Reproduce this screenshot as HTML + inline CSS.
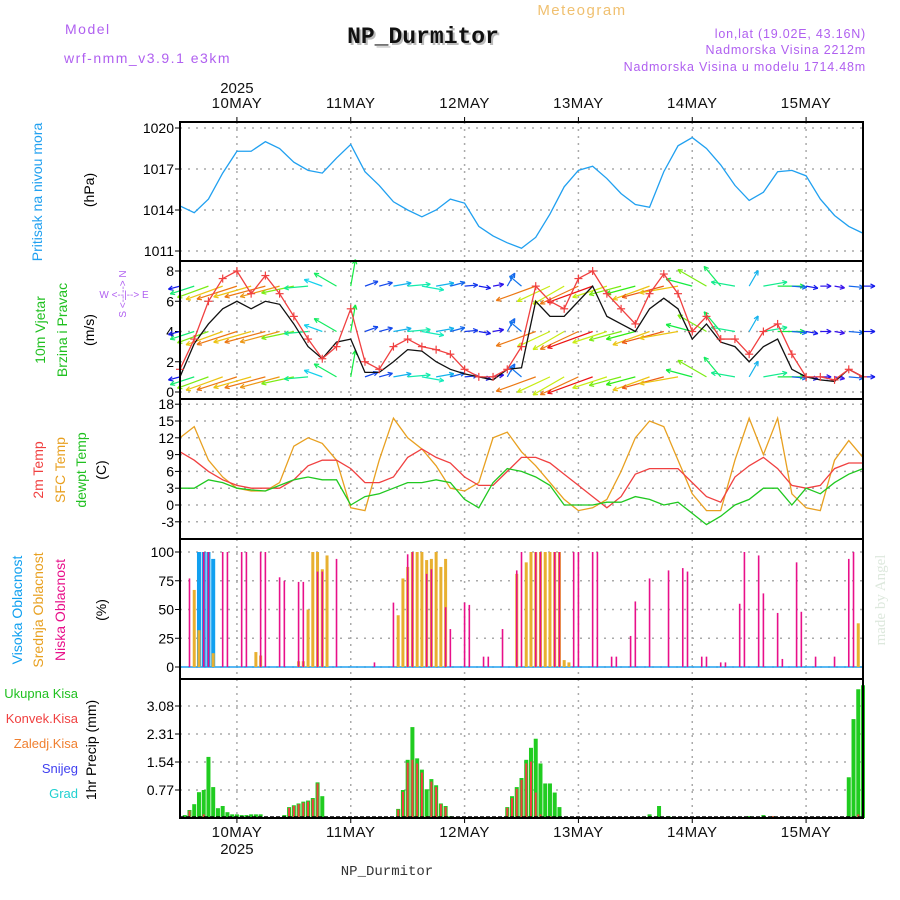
<!DOCTYPE html>
<html><head><meta charset="utf-8"><style>
body{margin:0;background:#fff;width:900px;height:900px;overflow:hidden}
svg{display:block}
</style></head><body>
<svg id="c" width="900" height="900" xmlns="http://www.w3.org/2000/svg" font-family="Liberation Sans, sans-serif">
<text x="65" y="34" fill="#b060f0" font-size="14" letter-spacing="1.5">Model</text>
<text x="64" y="63" fill="#b060f0" font-size="14" letter-spacing="1.5">wrf-nmm_v3.9.1 e3km</text>
<text x="425" y="45" text-anchor="middle" style="font-family:'Liberation Mono',monospace;font-weight:bold;font-size:23px" fill="#bbb">NP_Durmitor</text>
<text x="423" y="43" text-anchor="middle" style="font-family:'Liberation Mono',monospace;font-weight:bold;font-size:23px" fill="#111">NP_Durmitor</text>
<text x="582" y="15" text-anchor="middle" fill="#f0c070" font-size="15" letter-spacing="1.5">Meteogram</text>
<text x="866" y="38" text-anchor="end" fill="#b060f0" font-size="12.5" letter-spacing="0.8">lon,lat (19.02E, 43.16N)</text>
<text x="866" y="54" text-anchor="end" fill="#b060f0" font-size="12.5" letter-spacing="0.8">Nadmorska Visina 2212m</text>
<text x="866" y="71" text-anchor="end" fill="#b060f0" font-size="12.5" letter-spacing="0.8">Nadmorska Visina u modelu 1714.48m</text>
<text x="387" y="875" text-anchor="middle" style="font-family:'Liberation Mono',monospace;font-size:14px" fill="#333">NP_Durmitor</text>
<text transform="translate(885,600) rotate(-90)" text-anchor="middle" style="font-family:'Liberation Serif',serif;font-size:15px" fill="#dde8dd">made by Angel</text>
<g id="g"></g>
</svg>
<script>
// ---- data (hours after 9 May 12Z, step 3h) ----
const hours=[0,3,6,9,12,15,18,21,24,27,30,33,36,39,42,45,48,51,54,57,60,63,66,69,72,75,78,81,84,87,90,93,96,99,102,105,108,111,114,117,120,123,126,129,132,135,138,141,144];
const pressure=[1014.3,1013.8,1014.8,1016.7,1018.3,1018.3,1019,1018.5,1017.5,1016.9,1016.7,1017.8,1018.8,1016.8,1015.8,1014.6,1014,1013.5,1014,1014.8,1014.5,1012.8,1012.1,1011.6,1011.2,1012,1013.7,1015.7,1016.9,1017.2,1016.3,1015.2,1014.4,1014.2,1016.8,1018.7,1019.3,1018.5,1017.3,1015.8,1014.7,1015.3,1016.8,1016.9,1016.5,1014.8,1013.6,1012.8,1012.3];
const gust=[1.5,3.5,6,7.5,8,6.5,7.7,6.5,5,3.5,2.2,3,5.5,2,1.5,3,3.5,3,2.8,2.5,1.5,1,1,1.5,3,7,6,5.5,7.5,8,6.5,5.5,4.5,6.5,7.8,6.5,4,5,3.5,3.5,2.5,4,4.5,2.5,1,1,0.8,1.5,1];
const speed=[1,3.2,4.5,5.5,6,5.5,6,5.8,4.5,3,2.2,3.3,3.5,1.3,1.3,2,2.8,2.7,2,1.5,1.2,1,0.8,1.5,1.6,6,5,5,6,7,5,4.5,4,5.5,6.2,5.5,3.5,4.5,3.3,3,2,3,3.5,1.5,1,0.8,0.7,1.5,1];
const windDir=[195,198,200,200,198,196,195,195,192,185,160,150,80,20,15,10,5,350,10,15,5,350,10,60,140,200,205,210,205,200,198,195,195,200,195,190,165,150,130,170,60,10,0,355,350,0,350,355,0];
const temp2m=[9.5,8,6,4.5,3.5,3,3,3,4.5,7,8,8,6.5,4,4,5,8.5,10,8.5,7.5,5,3.5,3.5,6,8.5,8.5,7.5,5.5,3.5,1.5,-0.5,1.5,5.5,6.5,6.5,6.5,4,1.5,0.5,5,7,8.5,6.5,3.5,3,3.5,6.5,7.5,7.5];
const tempSfc=[12,14,8,5,3,2.5,2.5,4,10.5,12,11,8,-0.5,-1,8,15.5,12,10,7,3,2.5,4,12,13,9.5,7,4,1,-1,-0.5,1,6,12,15,14,8,2,-1,-1,8,15.5,9,15.5,2,-0.5,-1,8,11.5,8.5];
const dewpt=[3,3,4.5,4,3,2.7,2.5,3.5,4.5,5,4.5,4.5,0,1.5,2,3,4,4,4.5,4,1,-0.5,4,6.5,6,5,3.5,0,0,0,0.5,0.5,1.5,1,0,0.5,-1.5,-3.5,-2,0,1,3,3,0,3,2,4,5.5,6.5];
// cloud cover: [hour, percent]
const cloudHigh=[[4,100],[5,100],[6,100],[7,94]];
const cloudMid=[[3,67],[4,32],[7,12],[16,13],[17,10],[25,5],[26,5],[27,50],[28,100],[29,100],[30,85],[31,97],[46,45],[47,77],[48,87],[49,100],[50,100],[51,100],[52,93],[53,94],[54,100],[55,87],[56,94],[71,81],[73,91],[74,100],[75,100],[76,100],[77,100],[78,100],[79,100],[80,100],[81,6],[82,4],[143,38]];
const cloudLow=[[2,77],[5,100],[6,100],[9,100],[10,100],[13,100],[14,100],[17,100],[18,100],[21,78],[22,75],[25,74],[26,74],[29,83],[30,83],[33,94],[41,4],[45,56],[48,98],[49,100],[52,81],[53,85],[56,52],[57,33],[60,56],[61,54],[64,9],[65,9],[68,33],[71,84],[72,100],[75,100],[76,100],[79,100],[80,100],[83,100],[84,100],[87,100],[88,100],[91,9],[92,9],[95,27],[96,57],[99,77],[103,84],[106,86],[107,83],[110,9],[111,9],[114,4],[115,4],[118,55],[119,100],[122,97],[123,64],[126,47],[127,7],[130,91],[131,48],[134,9],[138,9],[141,94],[142,100]];
// precip: [hour, total mm, convective mm]
const precip=[[1,0.08,0],[2,0.22,0.2],[3,0.38,0],[4,0.71,0],[5,0.77,0.1],[6,1.68,0],[7,0.85,0],[8,0.27,0],[9,0.33,0],[10,0.16,0],[11,0.1,0],[12,0.1,0],[13,0.08,0],[14,0.08,0],[15,0.1,0],[16,0.1,0],[17,0.1,0],[22,0.08,0],[23,0.3,0.28],[24,0.35,0.33],[25,0.4,0.38],[26,0.45,0.42],[27,0.48,0.45],[28,0.55,0.52],[29,0.98,0.95],[30,0.6,0],[46,0.25,0.23],[47,0.77,0.72],[48,1.6,1.52],[49,2.5,1.6],[50,1.64,1.5],[51,1.33,1.25],[52,0.79,0.05],[53,1.07,1.0],[54,0.9,0.85],[55,0.4,0.38],[56,0.33,0.3],[57,0.05,0],[69,0.3,0.28],[70,0.6,0.55],[71,0.85,0.8],[72,1.1,1.05],[73,1.6,1.5],[74,1.93,1.55],[75,2.18,0.7],[76,1.5,0.1],[77,0.95,0],[78,0.95,0.05],[79,0.7,0],[80,0.3,0],[99,0.1,0],[100,0.03,0],[101,0.33,0],[103,0.05,0],[120,0.05,0],[123,0.08,0],[125,0.05,0.05],[141,1.12,0],[142,2.72,0],[143,3.54,0.1],[144,3.65,0.9]];
const dayLabels=["10MAY","11MAY","12MAY","13MAY","14MAY","15MAY"];
const dayHours=[12,36,60,84,108,132];
const pTicks=[1011,1014,1017,1020];
const wTicks=[0,2,4,6,8];
const tTicks=[-3,0,3,6,9,12,15,18];
const cTicks=[0,25,50,75,100];
const rTicks=[0.77,1.54,2.31,3.08];

// ---- axes ----
const X0=180,X1=863,HMAX=144;
const x=h=>X0+(X1-X0)*h/HMAX;
const lin=(d0,d1,r0,r1)=>v=>r0+(v-d0)*(r1-r0)/(d1-d0);
const yP=lin(1011,1020,251,128), yW=lin(0,8,392,271), yT=lin(0,15,505,421), yC=lin(0,100,667,552), yR=lin(0,3.08,818,706);
const panels=[[122,261],[261,399],[399,539],[539,679],[679,818]];
const NS="http://www.w3.org/2000/svg";
const G=document.getElementById('g');
function mk(t,a,p){const e=document.createElementNS(NS,t);for(const k in a)e.setAttribute(k,a[k]);(p||G).appendChild(e);return e;}

// grid
panels.forEach((pn,i)=>{
  dayHours.forEach(h=>{
    const l=mk('line',{x1:x(h),x2:x(h),y1:pn[0],y2:pn[1],stroke:'#aaa','stroke-width':1.5,'stroke-dasharray':'2 5'});
    
    
  });
});
function hgrid(ticks,ys,fmt,name){
  ticks.forEach(t=>{
    const l=mk('line',{x1:X0,x2:X1,y1:ys(t),y2:ys(t),stroke:'#aaa','stroke-width':1.5,'stroke-dasharray':'2 6'});
    
    
    mk('line',{x1:X0-5,x2:X0,y1:ys(t),y2:ys(t),stroke:'#000'});
    const tx=mk('text',{x:X0-6,y:ys(t)+5,'text-anchor':'end','font-size':14,fill:'#000'});
    tx.textContent=fmt(t);
    
    
  });
}
hgrid(pTicks,yP,t=>t,'pressure');
hgrid(wTicks,yW,t=>t,'wind');
hgrid(tTicks,yT,t=>t,'temp');
hgrid(cTicks,yC,t=>t,'cloud');
hgrid(rTicks,yR,t=>t.toFixed(2),'precip');

function poly(arr,ys,col,name,w){
  const pts=hours.map((h,i)=>x(h)+','+ys(arr[i])).join(' ');
  const p=mk('polyline',{points:pts,fill:'none',stroke:col,'stroke-width':w||1.3});
  
  
  return p;
}
// pressure
poly(pressure,yP,'#20a0f0','pressure-line');

// wind arrows
const rows=[7,4,1];
function wcol(s){const hue=Math.max(0,Math.min(280,280-s*42));return 'hsl('+hue+',85%,50%)';}
hours.forEach((h,i)=>{
  rows.forEach(r=>{
    const bx=x(h),by=yW(r),L=6+speed[i]*6,a=windDir[i]*Math.PI/180;
    const tx=bx+L*Math.cos(a),ty=by-L*Math.sin(a);
    const c=wcol(speed[i]);
    const g=mk('g',{stroke:c,'stroke-width':1.2,fill:'none'});
    
    
    mk('line',{x1:bx,y1:by,x2:tx,y2:ty},g);
    const ha=a+Math.PI;
    [0.45,-0.45].forEach(d=>mk('line',{x1:tx,y1:ty,x2:tx+5*Math.cos(ha+d),y2:ty-5*Math.sin(ha+d)},g));
  });
});
poly(speed,yW,'#111','wind-speed-line');
poly(gust,yW,'#f04040','wind-gust-line');
hours.forEach((h,i)=>{
  const g=mk('g',{stroke:'#f04040','stroke-width':1.2});
  
  
  mk('line',{x1:x(h)-4,x2:x(h)+4,y1:yW(gust[i]),y2:yW(gust[i])},g);
  mk('line',{x1:x(h),x2:x(h),y1:yW(gust[i])-4,y2:yW(gust[i])+4},g);
});

// temps
poly(tempSfc,yT,'#e8a020','sfc-temp-line');
poly(temp2m,yT,'#f04040','temp-2m-line');
poly(dewpt,yT,'#20c820','dewpoint-line');

// clouds
function cbars(arr,col,w,name,off){
  arr.forEach(d=>{
    const r=mk('rect',{x:x(d[0])-w/2+off,y:yC(d[1]),width:w,height:yC(0)-yC(d[1]),fill:col});
    
    
  });
}
mk('line',{x1:X0,x2:X1,y1:yC(0),y2:yC(0),stroke:'#20a0f0','stroke-width':1.5});
cbars(cloudHigh,'#10a0f0',4,'high-cloud-bar',0);
cbars(cloudMid,'#e8b030',3,'mid-cloud-bar',0);
cbars(cloudLow,'#e8108a',1.6,'low-cloud-bar',0);

// precip
precip.forEach(d=>{
  const r=mk('rect',{x:x(d[0])-2,y:yR(d[1]),width:4,height:yR(0)-yR(d[1]),fill:'#20cc20'});
  
  
  if(d[2]>0){
    const c=mk('rect',{x:x(d[0])-1,y:yR(d[2]),width:2,height:yR(0)-yR(d[2]),fill:'#f04040'});
    
    
  }
});
mk('line',{x1:X0,x2:X1,y1:817,y2:817,stroke:'#000','stroke-width':1.5,'stroke-dasharray':'4 2'});

// panel frames
panels.forEach(pn=>{
  const r=mk('rect',{x:X0,y:pn[0],width:X1-X0,height:pn[1]-pn[0],fill:'none',stroke:'#000','stroke-width':2});
  
  
});
// day labels
dayHours.forEach((h,i)=>{
  [[108,'top'],[837,'bottom']].forEach(p=>{
    const t=mk('text',{x:x(h),y:p[0],'text-anchor':'middle','font-size':15,fill:'#111','letter-spacing':0.5});
    t.textContent=dayLabels[i];
    
    
    mk('line',{x1:x(h),x2:x(h),y1:p[1]=='top'?117:818,y2:p[1]=='top'?122:823,stroke:'#000'});
  });
});
[[93],[854]].forEach(p=>{
  const t=mk('text',{x:x(12),y:p[0],'text-anchor':'middle','font-size':15,fill:'#111'});
  t.textContent='2025';
  
  
});

// left labels
function vlab(txt,cx,cy,col,name,fs){
  const t=mk('text',{transform:'translate('+cx+','+cy+') rotate(-90)','text-anchor':'middle','font-size':fs||14,fill:col});
  t.textContent=txt;
  
  
}
vlab('Pritisak na nivou mora',42,192,'#20a0f0','pressure-title');
vlab('(hPa)',94,190,'#000','pressure-unit');
vlab('10m Vjetar',45,330,'#20c020','wind-title-1');
vlab('Brzina i Pravac',67,330,'#20c020','wind-title-2');
vlab('(m/s)',94,330,'#000','wind-unit');
vlab('2m Temp',43,470,'#f04040','temp2m-title');
vlab('SFC Temp',65,470,'#e8a020','sfc-title');
vlab('dewpt Temp',86,470,'#20c020','dewpt-title');
vlab('(C)',106,470,'#000','temp-unit');
vlab('Visoka Oblacnost',22,610,'#10a0f0','high-cloud-title');
vlab('Srednja Oblacnost',43,610,'#e8a020','mid-cloud-title');
vlab('Niska Oblacnost',65,610,'#e8108a','low-cloud-title');
vlab('(%)',106,610,'#000','cloud-unit');
vlab('1hr Precip (mm)',96,750,'#000','precip-unit');
[['Ukupna Kisa','#20c020',698],['Konvek.Kisa','#f04040',723],['Zaledj.Kisa','#f08030',748],['Snijeg','#4040f0',773],['Grad','#20d0d0',798]].forEach(l=>{
  const t=mk('text',{x:78,y:l[2],'text-anchor':'end','font-size':13,fill:l[1]});
  t.textContent=l[0];
  
  
});
// compass
const cg=mk('g',{fill:'#b060f0','font-size':10});


const ch=mk('text',{x:124,y:298,'text-anchor':'middle'},cg);
ch.textContent='W   <--|-->   E';
const cv=mk('text',{transform:'translate(126,294) rotate(-90)','text-anchor':'middle'},cg);
cv.textContent='S <-- --> N';
</script>
</body></html>
